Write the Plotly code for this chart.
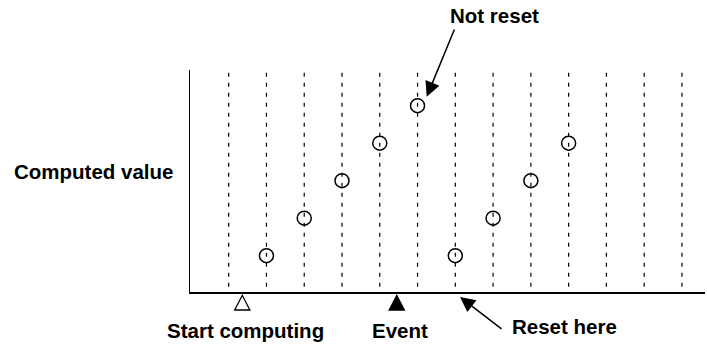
import plotly.graph_objects as go

# ---------------- data ----------------
slots = list(range(1, 14))                 # dashed sampling instants
x_before = [2, 3, 4, 5, 6]                 # values computed before the event
y_before = [1, 2, 3, 4, 5]
x_after = [7, 8, 9, 10]                    # values after reset
y_after = [1, 2, 3, 4]
start_x = 1.36                             # "Start computing" marker
event_x = 5.45                             # "Event" marker
labels = {
    "ylabel": "Computed value",
    "start": "Start computing",
    "event": "Event",
    "notreset": "Not reset",
    "reset": "Reset here",
}

# ---------------- layout constants ----------------
W, H = 707, 347
PL, PR, PT, PBOT = 190, 705, 70, 292      # plot area in window pixels
ML, MR, MT, MB = PL, W - PR, PT, H - PBOT
PW, PH = PR - PL, PBOT - PT
X_RANGE = [-0.024, 13.61]
Y_RANGE = [0.03, 5.95]


def xp(p):   # window px -> paper x
    return (p - PL) / PW


def yp(p):   # window px -> paper y
    return (PBOT - p) / PH


FONT = dict(family="Liberation Sans, Arial, Helvetica, sans-serif", size=20.5,
            color="black", weight="bold")

fig = go.Figure()

fig.add_trace(go.Scatter(
    x=x_before + x_after, y=y_before + y_after, mode="markers",
    marker=dict(symbol="circle-open", size=14, color="black",
                line=dict(width=1.5, color="black")),
    cliponaxis=False, hoverinfo="skip"))

shapes = []
for s in slots:
    shapes.append(dict(type="line", xref="x", yref="paper", x0=s, x1=s,
                       y0=0.988, y1=0.0, layer="below",
                       line=dict(color="black", width=1.2, dash="4px,6px")))

tri_path = "M-7.6,-18 L7.6,-18 L0,-3.3 Z"
for xv, fill in [(start_x, "white"), (event_x, "black")]:
    shapes.append(dict(type="path", xref="x", yref="paper",
                       xsizemode="pixel", ysizemode="pixel",
                       xanchor=xv, yanchor=0, path=tri_path,
                       fillcolor=fill, line=dict(color="black", width=1.3)))

annotations = [
    dict(text=labels["ylabel"], xref="paper", yref="paper",
         x=xp(175), y=yp(171), xanchor="right", yanchor="middle",
         showarrow=False, font=FONT),
    dict(text=labels["start"], xref="paper", yref="paper", x=xp(245), y=yp(330),
         xanchor="center", yanchor="middle", showarrow=False, font=FONT),
    dict(text=labels["event"], xref="paper", yref="paper", x=xp(400.4), y=yp(330),
         xanchor="center", yanchor="middle", showarrow=False, font=FONT),
    dict(text=labels["notreset"], xref="paper", yref="paper", x=xp(447.7), y=yp(15),
         xanchor="left", yanchor="middle", showarrow=False, font=FONT),
    dict(text=labels["reset"], xref="paper", yref="paper", x=xp(510), y=yp(326.5),
         xanchor="left", yanchor="middle", showarrow=False, font=FONT),
    # arrows
    dict(text="", xref="paper", yref="paper", x=xp(426.7), y=yp(96.7),
         ax=455 - 426.7, ay=28 - 96.7, showarrow=True, arrowhead=2,
         arrowsize=2, arrowwidth=1.5, arrowcolor="black", standoff=0),
    dict(text="", xref="paper", yref="paper", x=xp(460), y=yp(297),
         ax=503 - 460, ay=330 - 297, showarrow=True, arrowhead=2,
         arrowsize=2, arrowwidth=1.5, arrowcolor="black", standoff=0),
]

fig.update_layout(
    width=W, height=H,
    margin=dict(l=ML, r=MR, t=MT, b=MB, pad=0),
    paper_bgcolor="white", plot_bgcolor="white",
    showlegend=False, shapes=shapes, annotations=annotations,
    hovermode=False,
    xaxis=dict(range=X_RANGE, showgrid=False, zeroline=False,
               showticklabels=False, ticks="", showline=True,
               linecolor="black", linewidth=2, fixedrange=True),
    yaxis=dict(range=Y_RANGE, showgrid=False, zeroline=False,
               showticklabels=False, ticks="", showline=True,
               linecolor="black", linewidth=1.3, fixedrange=True),
)

fig.write_html("out.html",
               config={"displayModeBar": False, "staticPlot": True},
               post_script="document.body.style.margin='0';"
                           "document.body.style.overflow='hidden';")
